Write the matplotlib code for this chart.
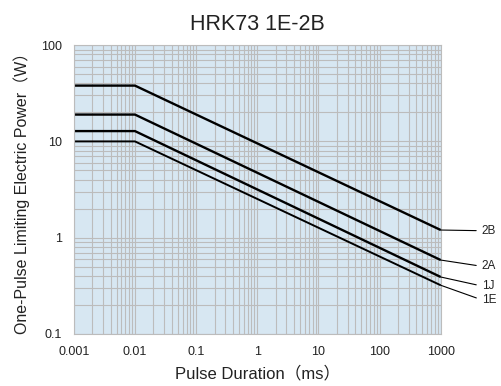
import numpy as np
import matplotlib
matplotlib.use("Agg")
import matplotlib.pyplot as plt

plt.rcParams['font.family'] = ['Liberation Sans', 'Noto Sans CJK JP', 'DejaVu Sans']

# 数据: 脉冲时间 (ms) 与各尺寸的单脉冲极限功率 (W)
pulse_ms = [0.001, 0.01, 1000]
sizes = ["2B", "2A", "1J", "1E"]
power_2B = [38, 38, 1.2]
power_2A = [19, 19, 0.585]
power_1J = [12.8, 12.8, 0.39]
power_1E = [10, 10, 0.32]
series = [power_2B, power_2A, power_1J, power_1E]

x_ticks = [0.001, 0.01, 0.1, 1, 10, 100, 1000]
x_ticklabels = ["0.001", "0.01", "0.1", "1", "10", "100", "1000"]
y_ticks = [0.1, 1, 10, 100]
y_ticklabels = ["0.1", "1", "10", "100"]

# 标签偏移 (points)
label_dy = [0, -4, -6, -10]

fig = plt.figure(figsize=(5.02, 3.86), dpi=100)
ax = fig.add_axes([0.147, 0.135, 0.731, 0.748])
ax.set_facecolor('#d7e7f2')

ax.set_xscale('log')
ax.set_yscale('log')
ax.set_xlim(0.001, 1000)
ax.set_ylim(0.1, 100)

ax.grid(True, which='both', color='#bcbcbc', lw=0.8)
ax.set_axisbelow(True)
for sp in ax.spines.values():
    sp.set_color('#bcbcbc')
    sp.set_linewidth(0.8)

for name, vals, dy in zip(sizes, series, label_dy):
    lw = 1.7 if name != "1E" else 1.4
    ax.plot(pulse_ms, vals, color='black', lw=lw, solid_capstyle='butt')
    ax.annotate(name, xy=(pulse_ms[-1], vals[-1]), xycoords='data',
                xytext=(29.5, dy - 0.5), textcoords='offset points',
                ha='left', va='center', fontsize=8.5, color='#222222',
                annotation_clip=False,
                arrowprops=dict(arrowstyle='-', color='black', lw=0.8,
                                shrinkA=2, shrinkB=0, relpos=(0, 0.5)))

ax.set_xticks(x_ticks)
ax.set_xticklabels(x_ticklabels)
ax.set_yticks(y_ticks)
ax.set_yticklabels(y_ticklabels)
ax.minorticks_on()
ax.tick_params(which='both', length=0, labelsize=9, colors='#222222')
ax.tick_params(axis='x', pad=9)
ax.tick_params(axis='y', pad=8.5)
ax.xaxis.set_minor_formatter(matplotlib.ticker.NullFormatter())
ax.yaxis.set_minor_formatter(matplotlib.ticker.NullFormatter())

ax.set_title("HRK73 1E-2B", fontsize=15.5, color='#222222', pad=11)
ax.set_xlabel("Pulse Duration（ms）", fontsize=12, color='#222222', labelpad=5)
ax.set_ylabel("One-Pulse Limiting Electric Power（W）", fontsize=11.5, color='#222222', labelpad=8)

fig.savefig("out.png", dpi=100)
